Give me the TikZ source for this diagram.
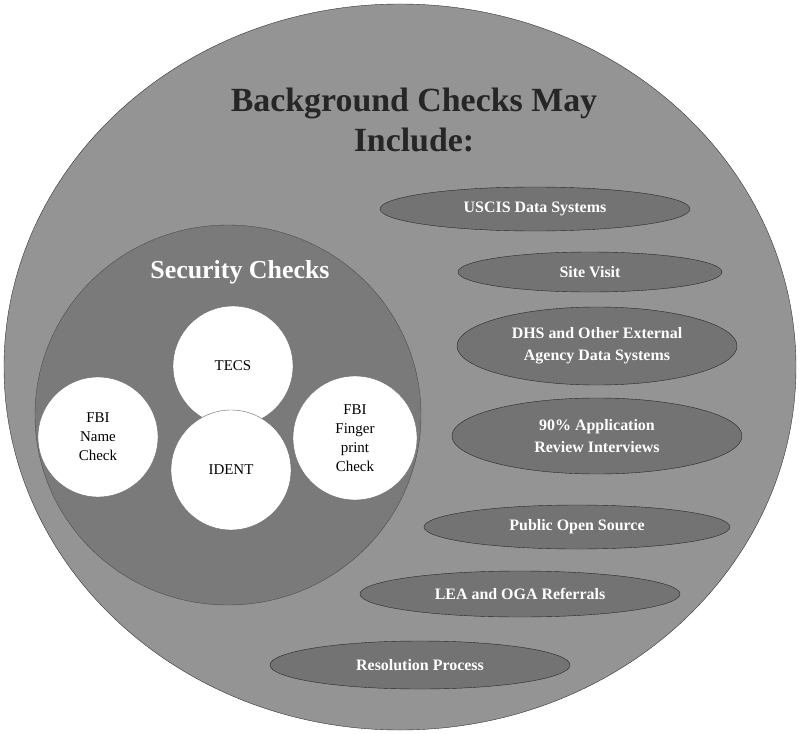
\documentclass[tikz,border=0pt]{standalone}
\usepackage{fontspec}
\setmainfont{Liberation Serif}
\usetikzlibrary{shapes.geometric}

\begin{document}
\begin{tikzpicture}[
  x=1bp,y=-1bp,
  outer/.style={draw=black!80,ellipse,fill=black!42,minimum width=792bp,minimum height=726bp},
  sec/.style={draw=black!70,ellipse,fill=black!52,minimum width=386bp,minimum height=380bp},
  chk/.style={draw=black!60,circle,fill=white,minimum size=120bp,align=center,
    font=\fontsize{15}{19}\selectfont},
  src/.style={draw=black!85,ellipse,fill=black!55,align=center,text=white,inner sep=1bp,
    font=\fontsize{16}{22}\selectfont\bfseries},
  ttl/.style={align=center,font=\fontsize{34}{41}\selectfont\bfseries,text=black!85}
]
\useasboundingbox (0,0) rectangle (801,734);

% big circle and title
\node[outer] (all) at (400,367) {};
\node[ttl] (title) at (414,120) {Background Checks May\\Include:};

% security checks
\node[sec] (secc) at (228,415) {};
\node[font=\fontsize{26}{30}\selectfont\bfseries,text=white] (seclbl) at (240,272) {Security Checks};
\node[chk] (tecs) at (233,366) {TECS};
\node[chk] (name) at (98,437) {FBI\\Name\\Check};
\node[chk] (ident) at (231,470) {IDENT};
\node[chk,minimum size=124bp] (finger) at (355,438) {FBI\\Finger\\print\\Check};

% other sources
\node[src,minimum width=310bp,minimum height=44bp] (uscis) at (535,209) {USCIS Data Systems};
\node[src,minimum width=264bp,minimum height=40bp] (visit) at (590,272) {Site Visit};
\node[src,minimum width=280bp,minimum height=78bp] (dhs) at (597,346) {DHS and Other External\\Agency Data Systems};
\node[src,minimum width=290bp,minimum height=76bp] (app) at (597,436) {90\% Application\\Review Interviews};
\node[src,minimum width=306bp,minimum height=44bp] (open) at (577,527) {Public Open Source};
\node[src,minimum width=320bp,minimum height=46bp] (lea) at (520,594) {LEA and OGA Referrals};
\node[src,minimum width=300bp,minimum height=48bp] (res) at (420,665) {Resolution Process};
\end{tikzpicture}
\end{document}
